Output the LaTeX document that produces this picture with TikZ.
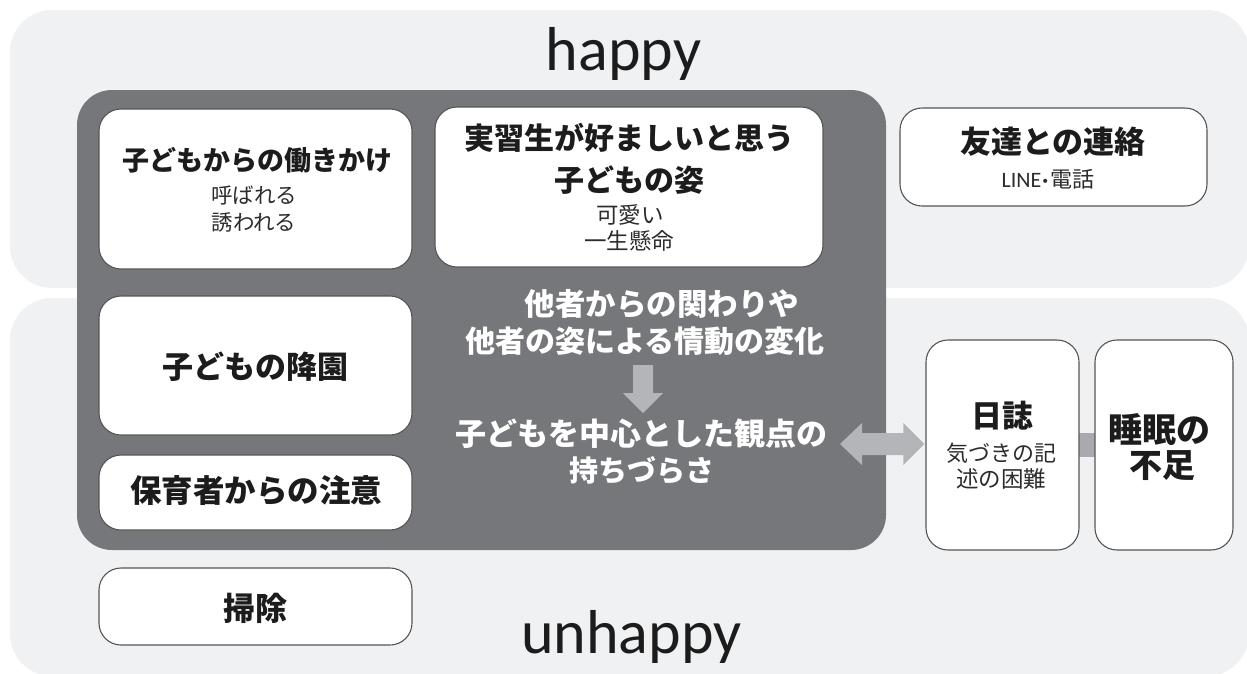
\documentclass[tikz,border=0pt]{standalone}
\usepackage{fontspec}
\newfontfamily\jp{Noto Sans CJK JP}
\newfontfamily\lat{Carlito}
\usetikzlibrary{calc}
\definecolor{band}{HTML}{F0F1F3}
\definecolor{panel}{HTML}{76777B}
\definecolor{bordergray}{HTML}{555555}
\definecolor{arrowgray}{HTML}{B4B5B8}
\definecolor{bargray}{HTML}{A9AAAD}
\definecolor{ink}{HTML}{1C1C1C}
\definecolor{subink}{HTML}{2C2C2C}
\tikzset{
  wbox/.style={draw=bordergray, fill=white, rounded corners=22, line width=1.1pt, inner sep=0pt},
  jb/.style={font=\jp\bfseries\fontsize{#1}{#1}\selectfont, text=ink, inner sep=0pt,
    text height=0.88*#1pt, text depth=0.12*#1pt},
  jr/.style={font=\jp\fontsize{#1}{#1}\selectfont, text=subink, inner sep=0pt,
    text height=0.88*#1pt, text depth=0.12*#1pt},
  jw/.style={font=\jp\bfseries\fontsize{#1}{#1}\selectfont, text=white, inner sep=0pt,
    text height=0.88*#1pt, text depth=0.12*#1pt},
  big/.style={font=\lat\fontsize{62}{62}\selectfont, text=ink, inner sep=0pt, anchor=base}
}
\begin{document}
\begin{tikzpicture}[x=1pt,y=-1pt]
\useasboundingbox (0,0) rectangle (1247,673);
% background bands
\fill[band, rounded corners=42] (10,10) rectangle (1249,288);
\fill[band, rounded corners=42] (10,298) rectangle (1249,676);
% dark panel
\node[fill=panel, rounded corners=35, minimum width=809pt, minimum height=460pt, inner sep=0pt] (panel) at (481.5,320) {};
% labels
\node[big] (happy) at (623.5,70) {happy};
\node[big] (unhappy) at (631.5,653) {unhappy};
% boxes
\node[wbox, minimum width=313pt, minimum height=160pt] (b1) at (255.5,189) {};
\node[wbox, minimum width=388pt, minimum height=160pt] (b2) at (629,187) {};
\node[wbox, minimum width=307pt, minimum height=98pt] (b3) at (1053.5,157) {};
\node[wbox, minimum width=313pt, minimum height=139pt] (b4) at (255.5,365.5) {};
\node[wbox, minimum width=313pt, minimum height=75pt] (b5) at (255.5,492.5) {};
\node[wbox, minimum width=313pt, minimum height=77pt] (b6) at (255.5,606.5) {};
% bar between diary and sleep
\node[minimum width=153pt, minimum height=210pt, inner sep=0pt] (diarypos) at (1002.5,445) {};
\node[minimum width=138pt, minimum height=210pt, inner sep=0pt] (sleeppos) at (1164,445) {};
\fill[bargray] ($(diarypos.east)+(-2,-12)$) rectangle ($(sleeppos.west)+(2,12)$);
\node[wbox, minimum width=153pt, minimum height=210pt] (diary) at (1002.5,445) {};
\node[wbox, minimum width=138pt, minimum height=210pt] (sleep) at (1164,445) {};
% texts in boxes
\node[jb=27] (t1) at (257,160) {子どもからの働きかけ};
\node[jr=21.5] (t1a) at (254,195) {呼ばれる};
\node[jr=21.5] (t1b) at (254,222) {誘われる};
\node[jb=30] (t2a) at (629,138) {実習生が好ましいと思う};
\node[jb=30] (t2b) at (629,180) {子どもの姿};
\node[jr=22.5] (t2c) at (630,215) {可愛い};
\node[jr=22.5] (t2d) at (629,241) {一生懸命};
\node[jb=31] (t3) at (1053,142) {友達との連絡};
\node[jr=22] (t3a) at (1048,179) {{\lat LINE\kern1pt\textbf{·}\kern2pt}電話};
\node[jb=31] (t4) at (255,367) {子どもの降園};
\node[jb=31.5] (t5) at (256,491) {保育者からの注意};
\node[jb=32] (t6) at (255,608) {掃除};
\node[jb=31] (d1) at (1002,416) {日誌};
\node[jr=22] (d2) at (1001,453) {気づきの記};
\node[jr=22.5] (d3) at (1001,479) {述の困難};
\node[jb=34] (s1) at (1159,430) {睡眠の};
\node[jb=33] (s2) at (1162,465) {不足};
% white texts
\node[jw=30.5] (w1) at (662,304) {他者からの関わりや};
\node[jw=30] (w2) at (645,341) {他者の姿による情動の変化};
\node[jw=31] (w3) at (641,434) {子どもを中心とした観点の};
\node[jw=29] (w4) at (642,470) {持ちづらさ};
% down arrow
\coordinate (da1) at (643,365);
\coordinate (da2) at (643,413);
\fill[arrowgray] ($(da1)+(-10,0)$) -- ($(da1)+(10,0)$) -- ($(da2)+(10,-20)$) -- ($(da2)+(20,-20)$)
  -- (da2) -- ($(da2)+(-20,-20)$) -- ($(da2)+(-10,-20)$) -- cycle;
% double arrow
\coordinate (dl) at (840,444);
\fill[arrowgray] (dl) -- ($(dl)+(22,-21)$) -- ($(dl)+(22,-11)$) -- ($(diary.west)+(-22,-12)$)
  -- ($(diary.west)+(-22,-22)$) -- ($(diary.west)+(-1,-1)$) -- ($(diary.west)+(-22,20)$)
  -- ($(diary.west)+(-22,10)$) -- ($(dl)+(22,11)$) -- ($(dl)+(22,21)$) -- cycle;
\end{tikzpicture}
\end{document}
